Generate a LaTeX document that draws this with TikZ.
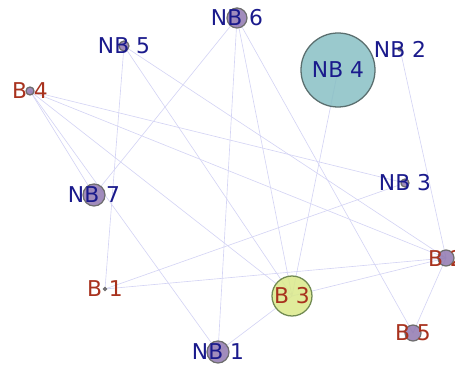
\documentclass[tikz,border=0pt]{standalone}
\usepackage{fontspec}
\setmainfont{DejaVu Sans}
\usepackage{tikz}
\usetikzlibrary{positioning}
\usepackage{xcolor}
\definecolor{fnblue}{HTML}{1A1A8C}
\definecolor{fbred}{HTML}{A8321E}
\definecolor{fedge}{HTML}{D4D4F4}
\definecolor{fdot}{HTML}{9078B0}
\definecolor{fring}{HTML}{6E6E6E}
\definecolor{fteal}{HTML}{88BFC4}
\definecolor{ftealring}{HTML}{5A6E6E}
\definecolor{flime}{HTML}{DAE98A}
\definecolor{flimering}{HTML}{718A52}

\begin{document}
\begin{tikzpicture}[x=0.025cm, y=-0.025cm, font=\fontsize{15.5}{18}\selectfont,
  edge/.style={draw=fedge, line width=0.45pt},
  vertex/.style={circle, inner sep=0pt, draw=fring, fill=fdot, fill opacity=0.85, line width=0.9pt},
  nbtext/.style={text=fnblue, inner sep=0pt},
  btext/.style={text=fbred, inner sep=0pt}]
\useasboundingbox (0,0) rectangle (455,366);
\clip (0,0) rectangle (455,366);
% node centres
\coordinate (nb1) at (218,352);
\coordinate (nb2) at (400,49);
\coordinate (nb3) at (405,183);
\coordinate (nb4) at (338,70);
\coordinate (nb5) at (124,46);
\coordinate (nb6) at (237,18);
\coordinate (nb7) at (94,195);
\coordinate (b1) at (105,289);
\coordinate (b2) at (446,258);
\coordinate (b3) at (292,296);
\coordinate (b4) at (30,91);
\coordinate (b5) at (413,333);
% edges
\foreach \a/\b in {b4/nb7, b4/nb1, b4/b3, b4/b2, b4/nb3,
                   nb5/b1, nb5/b3, nb5/b2,
                   nb6/nb7, nb6/nb1, nb6/b3, nb6/b5,
                   nb4/b3, nb2/b2, nb3/b1,
                   b1/b2, b2/b3, b2/b5, b3/nb1}{
  \draw[edge] (\a) -- (\b);}
% vertices
\foreach \n/\d in {nb1/0.55, nb2/0.1, nb3/0.2, nb5/0.25, nb6/0.5, nb7/0.55,
                   b1/0.075, b2/0.4, b4/0.2, b5/0.4}{
  \node[vertex, minimum size=\d cm] (\n-dot) at (\n) {};}
\node[vertex, draw=ftealring, fill=fteal, minimum size=1.85cm] (nb4-dot) at (nb4) {};
\node[vertex, draw=flimering, fill=flime, minimum size=1.0cm] (b3-dot) at (b3) {};
% labels
\foreach \n/\t in {nb1/NB 1, nb2/NB 2, nb3/NB 3, nb4/NB 4, nb5/NB 5, nb6/NB 6, nb7/NB 7}{
  \node[nbtext] (\n-lbl) at (\n) {\t};}
\foreach \n/\t in {b1/B 1, b2/B 2, b3/B 3, b4/B 4, b5/B 5}{
  \node[btext] (\n-lbl) at (\n) {\t};}
\end{tikzpicture}
\end{document}
